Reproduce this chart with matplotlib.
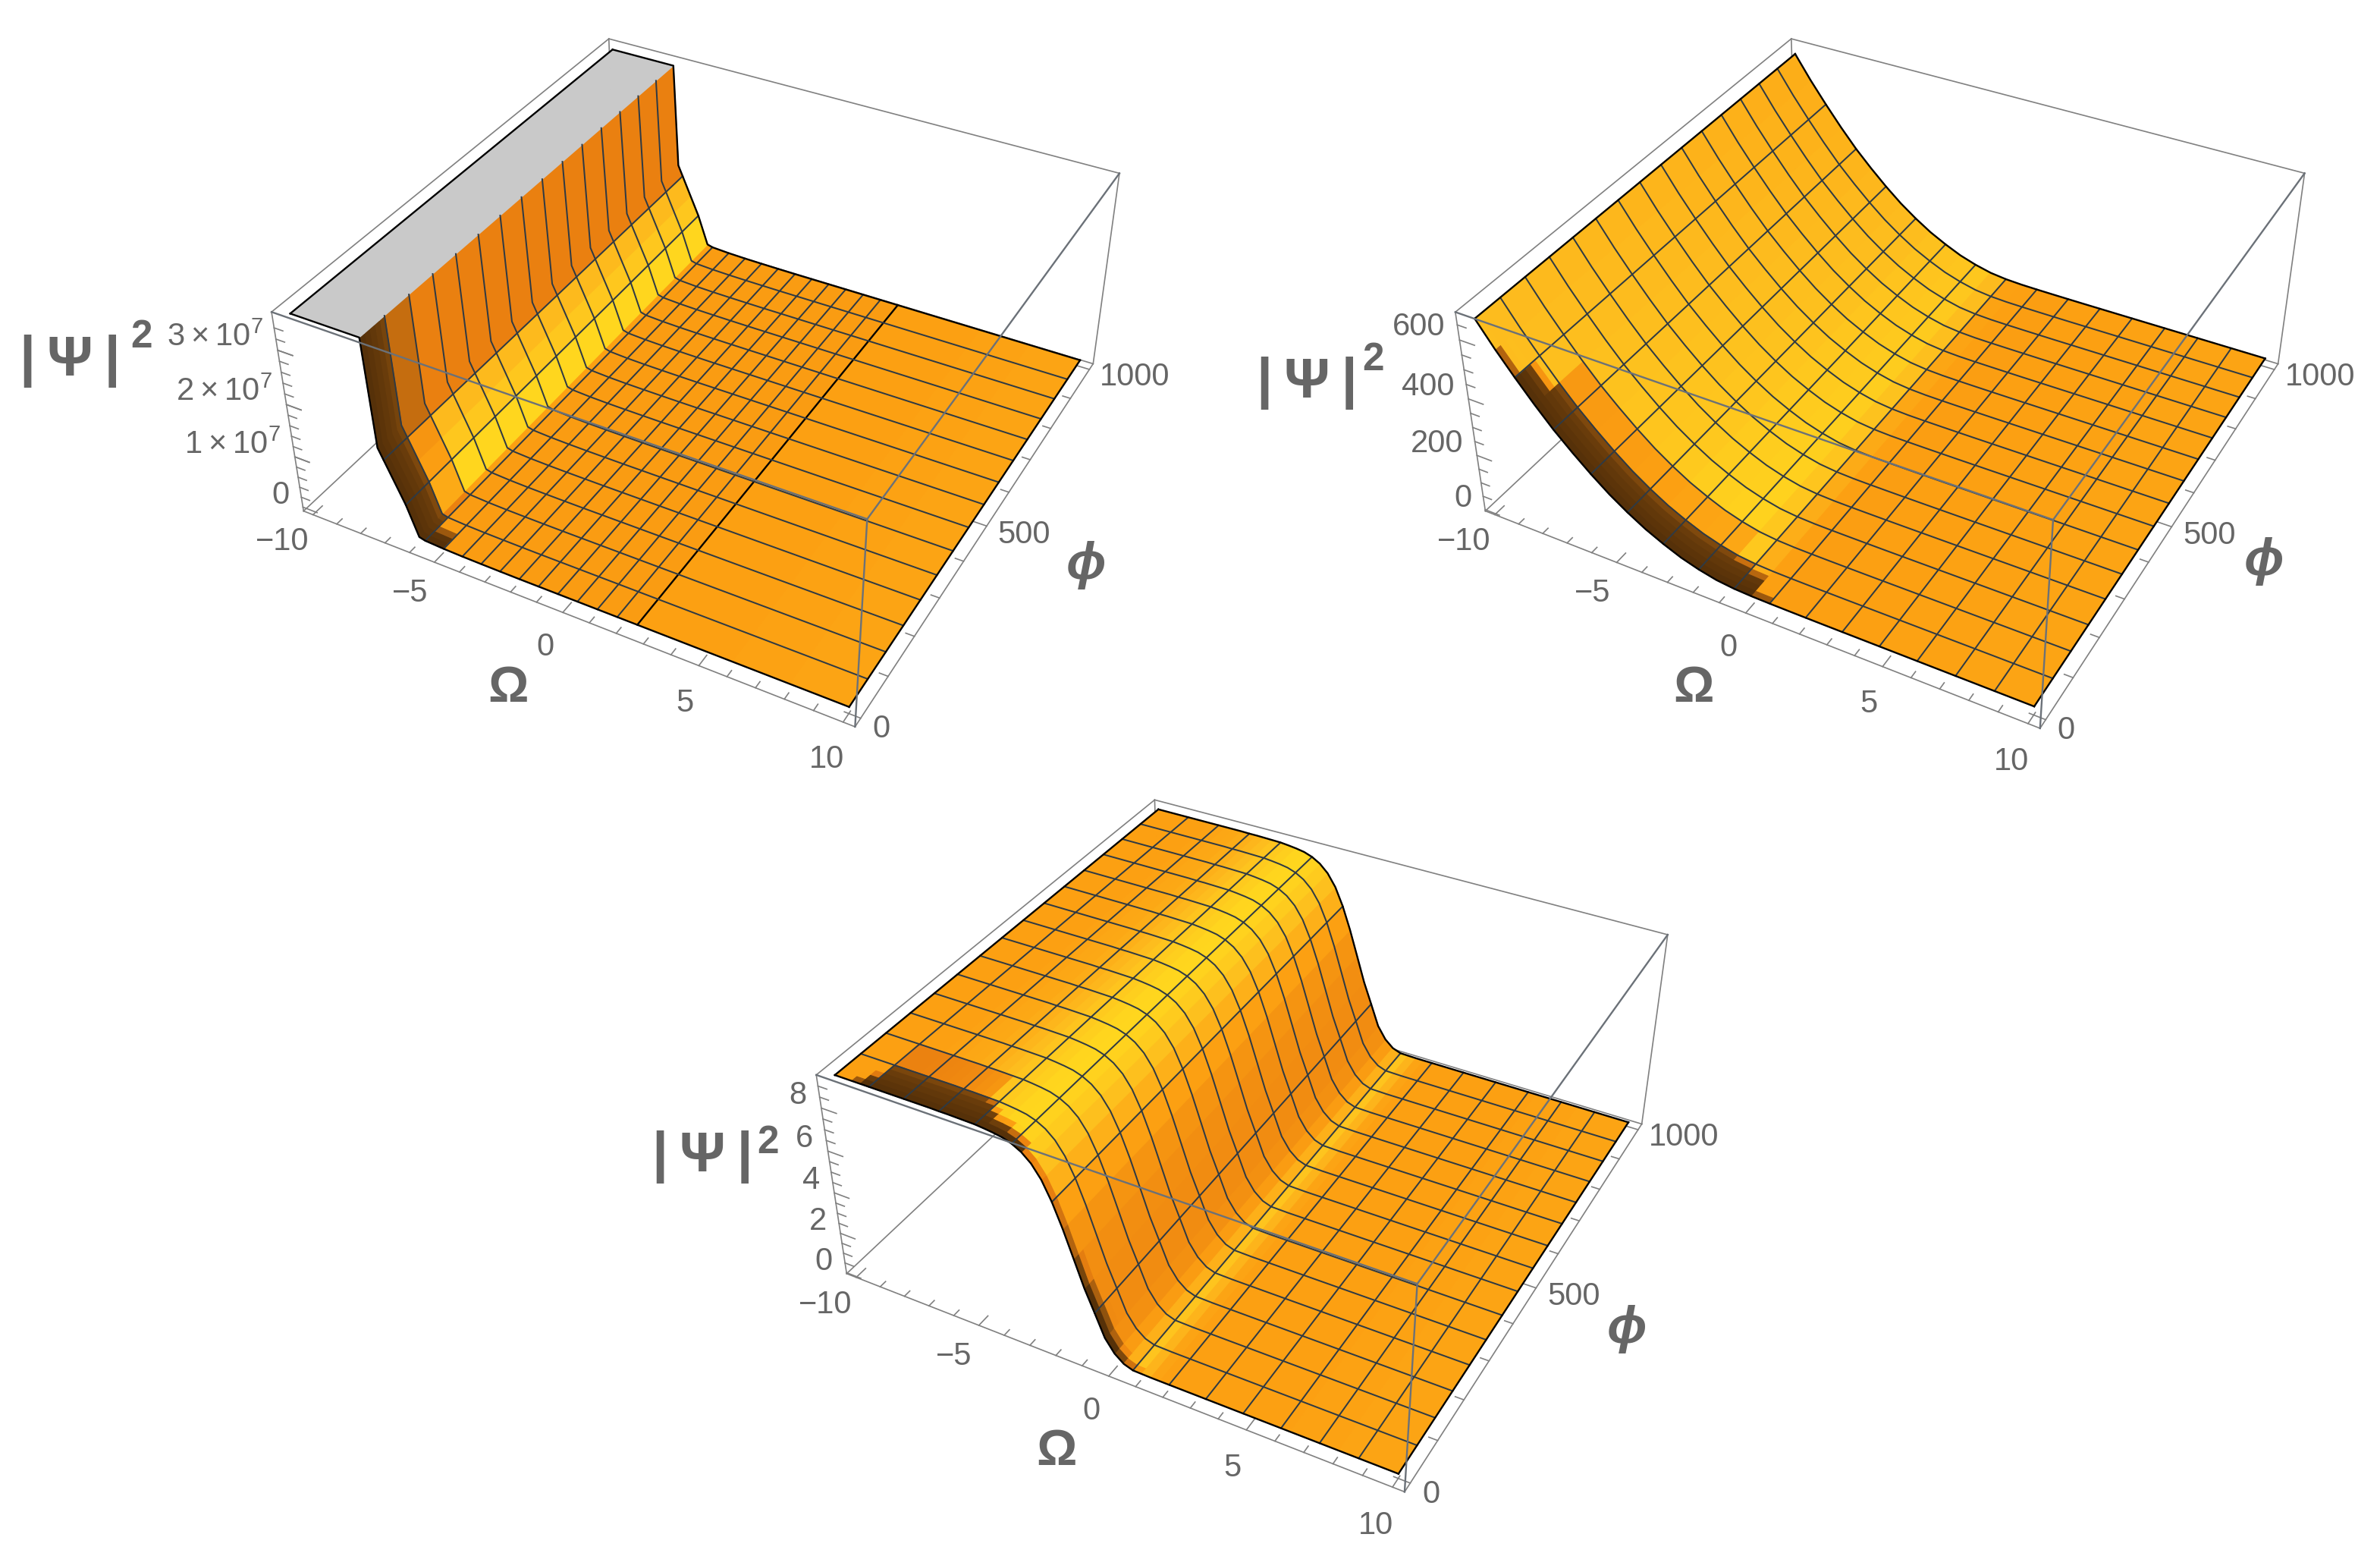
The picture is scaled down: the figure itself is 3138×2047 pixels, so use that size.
#!/usr/bin/python3
import numpy as np
import matplotlib
matplotlib.use('Agg')
import matplotlib.pyplot as plt
from matplotlib.colors import LinearSegmentedColormap
from mpl_toolkits.mplot3d import proj3d

plt.rcParams['font.family'] = ['Liberation Sans', 'DejaVu Sans']
plt.rcParams['mathtext.fontset'] = 'custom'
plt.rcParams['mathtext.rm'] = 'Liberation Sans'
plt.rcParams['mathtext.default'] = 'regular'

W, H = 3138, 2047
GRAY = '#666666'

# --- values ---
phi_nodes = [0, 13, 26, 40, 53, 66.67, 133.33, 200, 266.67, 333.33, 400, 466.67, 533.33,
             600, 666.67, 733.33, 800, 866.67, 933.33, 1000]
phi_mesh = [66.67, 133.33, 200, 266.67, 333.33, 400, 466.67, 533.33, 600, 666.67, 733.33,
            800, 866.67, 933.33]

# panel 1
omega_a = [-10, -8.5, -7.3, -7.14, -6.95, -6.6, -6.25, -5.84, -5.61, -4.87, -4.13, -3.39, -2.65,
           -1.90, -1.16, -0.42, 0.32, 1.07, 1.81, 2.55, 4, 6, 8, 10]
height_a = [3.6e7, 3.6e7, 3.6e7, 1.62e7, 1.42e7, 1.05e7, 0.68e7, 0.12e7, 0.09e7, 0.07e7, 0.06e7,
            0.055e7, 0.052e7, 0.05e7, 0.05e7, 0.05e7, 0.05e7, 0.05e7, 0.05e7, 0.05e7, 0.05e7,
            0.05e7, 0.05e7, 0.05e7]
shade_a = [0.5, 0.5, 0.56, 0.56, 0.85, 0.92, 1.0, 0.72, 0.7, 0.7, 0.7, 0.7, 0.7, 0.7, 0.7, 0.7,
           0.7, 0.7, 0.7, 0.72, 0.72, 0.73, 0.74, 0.74]
dark_a = [0, 0, 1.1, 1.1, 1.1, 1.1, 1.1, 1.1, 0.6, 0, 0, 0, 0, 0, 0, 0, 0, 0, 0, 0, 0, 0, 0, 0]
mesh_a = [-6.95, -6.25, -5.61, -4.87, -4.13, -3.39, -2.65, -1.90, -1.16, -0.42, 0.32, 1.07, 1.81]
black_a = [2.55]
ticks_za = [0, 1e7, 2e7, 3e7]
minor_za = [v * 2e6 for v in range(1, 18)]
labels_za = ['0', r'$1\times10^{7}$', r'$2\times10^{7}$', r'$3\times10^{7}$']

# panel 2
omega_b = [-10 + 2 * k / 3 for k in range(31)]
height_b = [661, 579, 504, 433, 367, 309, 255, 206, 164, 127, 97, 71, 52, 38, 31, 28, 27, 26.5, 26.2,
            26, 26, 26, 26, 26, 26, 26, 26, 26, 26, 26, 26]
shade_b = [0.86, 0.87, 0.88, 0.89, 0.9, 0.91, 0.92, 0.93, 0.94, 0.96, 0.97, 0.98, 0.99, 0.93, 0.8,
           0.72, 0.71, 0.71, 0.72, 0.72, 0.72, 0.72, 0.73, 0.73, 0.73, 0.73, 0.74, 0.74, 0.74, 0.74, 0.74]
dark_b = [0, 0.2, 0.7, 1.1, 1.1, 1.1, 1.1, 1.1, 1.1, 1.1, 1.1, 1.1, 1.1, 1.0, 0.8, 0.2, 0, 0, 0, 0, 0, 0,
          0, 0, 0, 0, 0, 0, 0, 0, 0]
mesh_b = omega_b[2:-1:2]
ticks_zb = [0, 200, 400, 600]
minor_zb = [50, 100, 150, 250, 300, 350, 450, 500, 550, 650]
labels_zb = ['0', '200', '400', '600']

# panel 3
omega_c = [-10 + k / 3 for k in range(61)]
height_c = [9.36, 9.36, 9.36, 9.36, 9.36, 9.36, 9.36, 9.36, 9.36, 9.36, 9.36, 9.36, 9.35, 9.35, 9.34,
            9.33, 9.32, 9.28, 9.23, 9.16, 9.02, 8.79, 8.42, 7.84, 6.98, 5.89, 4.65, 3.40, 2.36, 1.30,
            0.70, 0.35, 0.20, 0.19, 0.18, 0.18, 0.18, 0.18, 0.18, 0.18, 0.18, 0.18, 0.18, 0.18, 0.18,
            0.18, 0.18, 0.18, 0.18, 0.18, 0.18, 0.18, 0.18, 0.18, 0.18, 0.18, 0.18, 0.18, 0.18, 0.18, 0.18]
shade_c = [0.72, 0.72, 0.72, 0.72, 0.72, 0.72, 0.72, 0.73, 0.74, 0.75, 0.76, 0.78, 0.8, 0.83, 0.86,
           0.9, 0.93, 0.96, 0.99, 1.0, 0.98, 0.94, 0.88, 0.8, 0.72, 0.66, 0.63, 0.62, 0.62, 0.64,
           0.7, 0.8, 0.9, 0.82, 0.74, 0.72, 0.72, 0.72, 0.72, 0.72, 0.72, 0.72, 0.72, 0.72, 0.72,
           0.72, 0.72, 0.72, 0.72, 0.73, 0.73, 0.73, 0.73, 0.73, 0.74, 0.74, 0.74, 0.74, 0.74, 0.74, 0.74]
dark_c = [0, 0, 0.2, 0.5, 1.1, 1.1, 1.1, 1.1, 1.1, 1.1, 1.1, 1.1, 1.1, 1.1, 1.1, 1.0, 0.7, 0.5, 0.5, 0.4,
          0.35, 0.15, 0.12, 0.12, 0.12, 0.15, 0.25, 0.35, 0.4, 0.35, 0.25, 0.15, 0.08, 0, 0, 0, 0, 0, 0,
          0, 0, 0, 0, 0, 0, 0, 0, 0, 0, 0, 0, 0, 0, 0, 0, 0, 0, 0, 0, 0, 0]
mesh_c = omega_c[4:-1:4]
ticks_zc = [0, 2, 4, 6, 8]
minor_zc = [0.5, 1, 1.5, 2.5, 3, 3.5, 4.5, 5, 5.5, 6.5, 7, 7.5, 8.5, 9]
labels_zc = ['0', '2', '4', '6', '8']

ticks_x = [-10, -5, 0, 5, 10]
labels_x = ['\u221210', '\u22125', '0', '5', '10']
xlabel_nudge = [-0.05, 0.15, 0.35, 0.4, 0.22]
minor_x = list(range(-10, 11))
ticks_y = [0, 500, 1000]
minor_y = list(range(0, 1001, 100))

# box corners on the canvas (pixels), for the camera of each panel
corners_a = [(400, 673), (1128, 958), (1441, 480), (358, 412), (1143, 684), (1476, 228), (803, 51)]
corners_b = [(1958, 673), (2691, 960), (3003, 480), (1919, 412), (2706, 685), (3039, 228), (2362, 51)]
corners_c = [(1117, 1679), (1852, 1968), (2164, 1480), (1076, 1417), (1868, 1690), (2200, 1234), (1522, 1054)]

orange = LinearSegmentedColormap.from_list('orange', [
    (0.0, '#3d2206'), (0.3, '#8a4f0e'), (0.56, '#ea8010'), (0.72, '#fca012'),
    (0.86, '#fdbc1e'), (1.0, '#ffd61e')])


def set_camera(ax, xr, yr, zr, corners):
    # camera fitted to the box corners, mathematica's view is not an elev/azim one
    ax.apply_aspect()
    unit = [(0, 0, 0), (1, 0, 0), (1, 1, 0), (0, 0, 1), (1, 0, 1), (1, 1, 1), (0, 1, 1)]
    inv = ax.transData.inverted()
    rows = []
    for (a, b, c), (px, py) in zip(unit, corners):
        u, v = inv.transform((px, H - py)) * 10
        rows.append([a, b, c, 1, 0, 0, 0, 0, -u * a, -u * b, -u * c, -u])
        rows.append([0, 0, 0, 0, a, b, c, 1, -v * a, -v * b, -v * c, -v])
    P = np.linalg.svd(np.array(rows))[2][-1].reshape(3, 4)
    if P[2, 3] < 0:
        P = -P
    P[:2] /= 10
    # z = -1/w grows with the distance and stays negative, so nothing gets clipped
    M = np.vstack([P[0], P[1], [0, 0, 0, -1], P[2]])
    N = np.array([[1 / (xr[1] - xr[0]), 0, 0, -xr[0] / (xr[1] - xr[0])],
                  [0, 1 / (yr[1] - yr[0]), 0, -yr[0] / (yr[1] - yr[0])],
                  [0, 0, 1 / (zr[1] - zr[0]), -zr[0] / (zr[1] - zr[0])],
                  [0, 0, 0, 1]])
    M = M @ N
    ax.get_proj = lambda: M
    return M


def panel(rect_center, omega, height, shade, dark, mesh, black, zr, ztk, zmn, zlab, corners,
          tilt=0.0, clip=None, zgap=0.35):
    side = 1700
    ax = fig.add_axes([(rect_center[0] - side / 2) / W, 1 - (rect_center[1] + side / 2) / H,
                       side / W, side / H], projection='3d', computed_zorder=False)
    ax.patch.set_visible(False)
    ax.set_axis_off()
    xr = (-10.4, 10.4)
    yr = (-20, 1020)
    ax.set_xlim(xr)
    ax.set_ylim(yr)
    ax.set_zlim(zr)
    M = set_camera(ax, xr, yr, zr, corners)

    def label(x, y, z, s, **kw):
        u, v, _ = proj3d.proj_transform(x, y, z, M)
        ax.text2D(u, v, s, transform=ax.transData, color=GRAY, fontsize=15, **kw)

    # box
    x0, x1 = xr
    y0, y1 = yr
    z0, z1 = zr
    back = [((x0, y0, z0), (x1, y0, z0)), ((x1, y0, z0), (x1, y1, z0)), ((x1, y1, z0), (x0, y1, z0)),
            ((x0, y1, z0), (x0, y0, z0)), ((x0, y0, z0), (x0, y0, z1)), ((x1, y1, z0), (x1, y1, z1)),
            ((x0, y1, z0), (x0, y1, z1)), ((x0, y0, z1), (x0, y1, z1)), ((x0, y1, z1), (x1, y1, z1))]
    front = [((x0, y0, z1), (x1, y0, z1)), ((x1, y0, z1), (x1, y1, z1)), ((x1, y0, z0), (x1, y0, z1))]
    for p, q in back:
        ax.plot(*zip(p, q), color='#808080', lw=0.6, zorder=1)
    for p, q in front:
        ax.plot(*zip(p, q), color='#6b7178', lw=0.85, zorder=6)

    # ticks
    for v in minor_x:
        L = 26 if v in ticks_x else 15
        ax.plot([v, v], [y0, y0 + L], [z0, z0], color='#808080', lw=0.6, zorder=1)
    for v in minor_y:
        L = 0.55 if v in ticks_y else 0.3
        ax.plot([x1, x1 - L], [v, v], [z0, z0], color='#808080', lw=0.6, zorder=1)
    for v in list(ztk) + list(zmn):
        L = 0.6 if v in ztk else 0.35
        ax.plot([x0, x0 + L], [y0, y0], [v, v], color='#808080', lw=0.6, zorder=1)

    for v, s, n in zip(ticks_x, labels_x, xlabel_nudge):
        label(v + n, y0 - 80, z0, s, ha='center', va='center')
    for v in ticks_y:
        label(x1 + 0.5, v - 12, z0, str(v), ha='left', va='center')
    for v, s in zip(ztk, zlab):
        label(x0 - zgap, y0 - 10, v + 0.062 * (z1 - z0), s, ha='right', va='center')

    # surface
    X, Y = np.meshgrid(omega, phi_nodes)
    Z = np.tile(height, (len(phi_nodes), 1))
    f = np.array(phi_nodes)[:, None] / 66.67
    base = np.array(shade)[None, :]
    s = base + tilt * f / 15 * (base > 0.75)
    # the strip next to phi = 0 goes dark, as far into the strip as dark says
    d = np.clip((np.array(dark)[None, :] - f) * 3, 0, 1)
    s = s * (1 - d) + (0.1 + 0.12 * f) * d
    colors = orange(np.clip(s, 0, 1))
    if clip is not None:
        colors[:, np.array(omega) < clip] = (0.79, 0.79, 0.79, 1)
    ax.plot_surface(X, Y, Z, rstride=1, cstride=1, facecolors=colors, shade=False,
                    linewidth=0.5, zorder=2)

    # mesh and outline
    h = np.array(height)
    om = np.array(omega)
    for v in mesh:
        z = h[np.argmin(abs(om - v))]
        ax.plot([v, v], [0, 1000], [z, z], color='#2f3a44', lw=0.72, zorder=3)
    for v in black:
        z = h[np.argmin(abs(om - v))]
        ax.plot([v, v], [0, 1000], [z, z], color='black', lw=0.85, zorder=3)
    keep = om >= (clip if clip is not None else -10)
    for v in phi_mesh:
        ax.plot(om[keep], [v] * keep.sum(), h[keep], color='#2f3a44', lw=0.72, zorder=3)
    ax.plot(om, [0] * len(om), h, color='black', lw=0.85, zorder=4)
    ax.plot(om, [1000] * len(om), h, color='black', lw=0.85, zorder=4)
    ax.plot([10, 10], [0, 1000], [h[-1], h[-1]], color='black', lw=0.85, zorder=4)
    ax.plot([-10, -10], [0, 1000], [h[0], h[0]], color='black', lw=0.85, zorder=4)
    return ax


def pxtext(x, y, s, **kw):
    fig.text(x / W, 1 - y / H, s, color=GRAY, **kw)


fig = plt.figure(figsize=(W / 200, H / 200), dpi=200)

panel((780, 520), omega_a, height_a, shade_a, dark_a, mesh_a, black_a, (-0.08e7, 3.68e7),
      ticks_za, minor_za, labels_za, corners_a, clip=-7.35)
panel((2340, 520), omega_b, height_b, shade_b, dark_b, mesh_b, [], (-5, 692),
      ticks_zb, minor_zb, labels_zb, corners_b, tilt=-0.08)
panel((1640, 1500), omega_c, height_c, shade_c, dark_c, mesh_c, [], (-0.05, 9.5),
      ticks_zc, minor_zc, labels_zc, corners_c)

# axis titles
for x, y, s2x, s2y in [(92, 495, 186, 458), (1723, 524, 1811, 488), (926, 1544, 1012, 1520)]:
    pxtext(x, y, '|\u2009\u03a8\u2009|', fontsize=27, fontweight='bold', ha='center', va='baseline')
    pxtext(s2x, s2y, '2', fontsize=18.5, fontweight='bold', ha='center', va='baseline')
for x, y in [(670, 908), (2233, 908), (1393, 1914)]:
    pxtext(x, y, '\u03a9', fontsize=24, fontweight='bold', ha='center', va='center')
for x, y in [(1432, 745), (2985, 740), (2145, 1752)]:
    pxtext(x, y, '\u03d5', fontsize=25, fontweight='bold', fontstyle='italic', ha='center', va='center')

fig.savefig('out.png', dpi=200)
